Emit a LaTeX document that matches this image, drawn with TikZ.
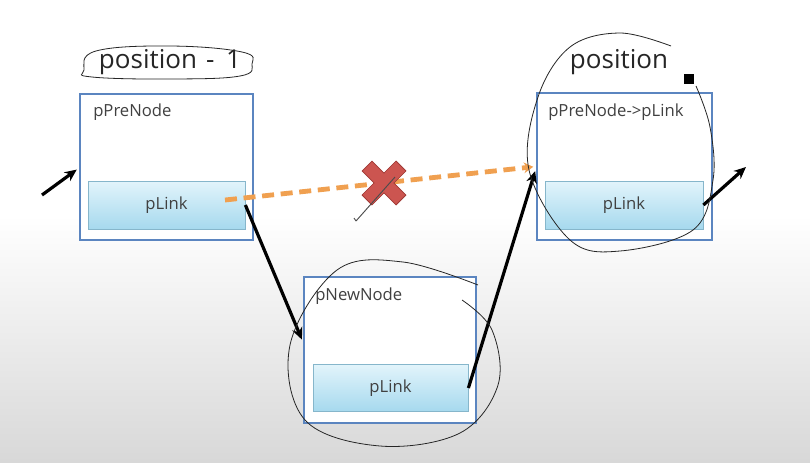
\documentclass[tikz,border=0pt]{standalone}
\usepackage{fontspec}
\setmainfont{Open Sans}
\usetikzlibrary{arrows.meta,calc}
\definecolor{boxblue}{HTML}{5B85C0}
\definecolor{txtgray}{HTML}{404040}
\definecolor{linktop}{HTML}{E2F4FB}
\definecolor{linkbot}{HTML}{A6D9EE}
\definecolor{linkedge}{HTML}{86B6CB}
\definecolor{dashorange}{HTML}{F0A050}
\definecolor{xred}{HTML}{CC5550}
\definecolor{xredd}{HTML}{A03A36}
\definecolor{bggray}{HTML}{D8D8D8}
\tikzset{
  outerbox/.style={draw=boxblue,line width=1.6pt,fill=white,inner sep=0pt},
  linkbox/.style={draw=linkedge,line width=0.6pt,top color=linktop,bottom color=linkbot,inner sep=0pt,
     text=txtgray,font=\fontsize{12.5}{14}\selectfont},
  boxlabel/.style={anchor=west,text=txtgray,inner sep=0pt,font=\fontsize{12.5}{14}\selectfont},
  poslabel/.style={text=black!85,inner sep=0pt,font=\fontsize{19.5}{22}\selectfont},
  blackarrow/.style={line width=2.4pt,-{Stealth[length=9pt,width=8pt]}},
  dasharrow/.style={dashorange,line width=3.6pt,dash pattern=on 9pt off 5pt,-{Stealth[length=7pt,width=8pt]}},
  handline/.style={black!85,line width=0.6pt}
}
\begin{document}
\begin{tikzpicture}[x=0.75pt,y=-0.75pt]
\useasboundingbox (0,0) rectangle (810,462);
\fill[white] (0,0) rectangle (810,462);
\shade[top color=white,bottom color=bggray] (0,215) rectangle (810,462);

% boxes
\node[outerbox,minimum width=129.75pt,minimum height=109.5pt] (b1) at (166.5,167) {};
\node[linkbox,minimum width=117.75pt,minimum height=36pt] (i1) at (166.5,205) {pLink};
\node[boxlabel] (t1) at (93,112) {pPreNode};

\node[outerbox,minimum width=129pt,minimum height=109.5pt] (b2) at (390,350) {};
\node[linkbox,minimum width=116.25pt,minimum height=35.25pt] (i2) at (390.5,388) {pLink};
\node[boxlabel] (t2) at (315,296) {pNewNode};

\node[outerbox,minimum width=131.25pt,minimum height=110.25pt] (b3) at (624.5,166.5) {};
\node[linkbox,minimum width=118.5pt,minimum height=36pt] (i3) at (624,205) {pLink};
\node[boxlabel] (t3) at (548,112) {pPreNode->pLink};

% position labels
\node[poslabel] (p1) at (170,62) {position\hspace{0.35em}-\hspace{0.45em}1};
\node[poslabel] (p2) at (619,62) {position};

% free ends
\coordinate (in0) at (42,195);
\coordinate (out0) at (746,167);
\coordinate (ostart) at (225,200);

% dashed orange link
\draw[dasharrow,shorten >=2pt] (ostart) -- (b3.west);

% red X
\begin{scope}[shift={(384,183)}]
  \fill[xred,draw=xredd,line width=0.6pt,rotate=45] (-24,-7) rectangle (24,7);
  \fill[xred,draw=xredd,line width=0.6pt,rotate=-45] (-24,-7) rectangle (24,7);
  \fill[xred,rotate=45] (-23,-6.4) rectangle (23,6.4);
\end{scope}
\draw[black!70,line width=0.7pt] (356,221) -- (395,177);
\draw[black!70,line width=0.7pt] (356,221) -- (354,218);

% black arrows
\draw[blackarrow,shorten >=2pt] (in0) -- ($(b1.west)+(0,1)$);
\draw[blackarrow,shorten >=2pt] (i1.east) -- ($(b2.west)+(0,-8)$);
\draw[blackarrow,shorten >=2pt] (i2.east) -- ($(b3.west)+(0,2)$);
\draw[blackarrow] (i3.east) -- (out0);

% hand-drawn loops
\draw[handline] plot[smooth cycle,tension=0.7] coordinates {(84,70) (96,51) (170,46) (242,52) (252,64) (240,76) (170,79) (92,77)};
\draw[handline] plot[smooth,tension=0.6] coordinates {(671,46) (620,33) (570,47) (538,97) (529,170) (570,240) (620,251) (693,230) (713,180) (710,127) (696,86)};
\fill[black] (684,74) rectangle (694,84);
\draw[handline] plot[smooth,tension=0.6] coordinates {(478,285) (403,262) (337,270) (290,345) (305,420) (380,446) (460,433) (498,385) (492,330) (462,300)};
\end{tikzpicture}
\end{document}
